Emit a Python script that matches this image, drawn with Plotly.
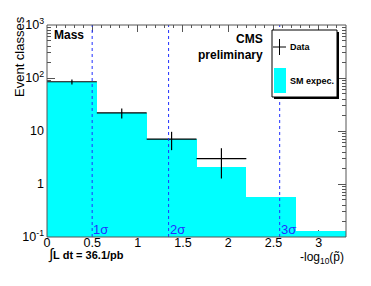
import plotly.graph_objects as go
import numpy as np

# ---- data ----
bin_edges = [0.0, 0.55, 1.10, 1.65, 2.20, 2.75, 3.30]
sm_expec = [85, 22, 7.0, 2.1, 0.57, 0.13]
data_x = [0.275, 0.825, 1.375, 1.925]
data_y = [85, 22, 7, 3]
data_err = [9.2, 4.7, 2.65, 1.73]
sigma_lines = [0.4985, 1.342, 2.568]
sigma_labels = ["1σ", "2σ", "3σ"]
ytick_vals = [0.1, 1, 10, 100, 1000]
ytick_text = ["10<sup>-1</sup>", "1", "10", "10<sup>2</sup>", "10<sup>3</sup>"]
xtick_vals = [0, 0.5, 1, 1.5, 2, 2.5, 3]
xtick_text = ["0", "0.5", "1", "1.5", "2", "2.5", "3"]

centers = [(bin_edges[i] + bin_edges[i + 1]) / 2 for i in range(len(sm_expec))]
widths = [bin_edges[i + 1] - bin_edges[i] for i in range(len(sm_expec))]

FONT = "Liberation Sans, Arial, sans-serif"
W, H = 371, 286
L, R, T, B = 47, 25, 25, 49
pw, ph = W - L - R, H - T - B

def px(x):
    return (x - L) / pw

def py(y):
    return 1 - (y - T) / ph

fig = go.Figure()
fig.add_trace(go.Bar(x=centers, y=sm_expec, width=widths,
                     marker=dict(color="#00FFFF", line=dict(width=0)),
                     showlegend=False))
fig.add_trace(go.Scatter(x=data_x, y=data_y, mode="markers",
                         marker=dict(size=1, color="black"),
                         error_x=dict(type="constant", value=0.275, width=0, thickness=1.2, color="black"),
                         error_y=dict(type="data", array=data_err, width=0, thickness=1.2, color="black"),
                         showlegend=False))

shapes = []
annotations = []
for xv, lab in zip(sigma_lines, sigma_labels):
    shapes.append(dict(type="line", xref="x", yref="paper", x0=xv, x1=xv, y0=0, y1=1,
                       line=dict(color="#2030ff", width=1, dash="dot"), layer="above"))
    annotations.append(dict(x=xv, y=0, xref="x", yref="paper", text=lab, showarrow=False,
                            xanchor="left", yanchor="bottom", xshift=-1, yshift=-2,
                            font=dict(family=FONT, size=13, color="#2030ff")))

# frame
shapes.append(dict(type="rect", xref="paper", yref="paper", x0=0, x1=1, y0=0, y1=1,
                   line=dict(color="#555555", width=1), layer="above"))

# legend box (shadow + box)
shapes.append(dict(type="rect", xref="paper", yref="paper", x0=px(274), x1=px(339), y0=py(99), y1=py(32),
                   line=dict(width=0), fillcolor="black", layer="above"))
shapes.append(dict(type="rect", xref="paper", yref="paper", x0=px(272), x1=px(337), y0=py(97), y1=py(30),
                   line=dict(color="black", width=1), fillcolor="white", layer="above"))
# legend data cross
shapes.append(dict(type="line", xref="paper", yref="paper", x0=px(273), x1=px(286), y0=py(47), y1=py(47),
                   line=dict(color="black", width=1), layer="above"))
shapes.append(dict(type="line", xref="paper", yref="paper", x0=px(279.5), x1=px(279.5), y0=py(39), y1=py(55),
                   line=dict(color="black", width=1), layer="above"))
# legend SM box
shapes.append(dict(type="rect", xref="paper", yref="paper", x0=px(274), x1=px(286), y0=py(93), y1=py(68),
                   line=dict(width=0), fillcolor="#00FFFF", layer="above"))

annotations += [
    dict(x=px(288), y=py(47), xref="paper", yref="paper", text="<b>Data</b>", showarrow=False,
         xanchor="left", yanchor="middle", font=dict(family=FONT, size=9, color="black")),
    dict(x=px(288), y=py(81), xref="paper", yref="paper", text="<b>SM expec.</b>", showarrow=False,
         xanchor="left", yanchor="middle", font=dict(family=FONT, size=9, color="black")),
    dict(x=px(52), y=py(26), xref="paper", yref="paper", text="<b>Mass</b>", showarrow=False,
         xanchor="left", yanchor="top", font=dict(family=FONT, size=12, color="black")),
    dict(x=px(265), y=py(30), xref="paper", yref="paper", text="<b>CMS<br>preliminary</b>", showarrow=False,
         xanchor="right", yanchor="top", align="right",
         font=dict(family=FONT, size=12, color="black")),
    dict(x=px(46), y=py(265), xref="paper", yref="paper",
         text="<span style='font-size:15px'>∫</span><b>L dt = 36.1/pb</b>", showarrow=False,
         xanchor="left", yanchor="bottom", font=dict(family=FONT, size=11, color="black")),
    dict(x=px(346), y=py(268), xref="paper", yref="paper", text="-log<sub>10</sub>(p̃)", showarrow=False,
         xanchor="right", yanchor="bottom", font=dict(family=FONT, size=12, color="black")),
    dict(x=px(20), y=py(57), xref="paper", yref="paper", text="Event classes", showarrow=False,
         textangle=-90, xanchor="center", yanchor="middle", font=dict(family=FONT, size=13, color="black")),
]

minor_y = [m * 10.0 ** k for k in range(-1, 3) for m in range(2, 10)]

fig.update_layout(
    width=W, height=H, margin=dict(l=L, r=R, t=T, b=B),
    paper_bgcolor="white", plot_bgcolor="white",
    font=dict(family=FONT, size=12, color="black"),
    shapes=shapes, annotations=annotations, showlegend=False, bargap=0,
    xaxis=dict(range=[0, 3.3], tickvals=xtick_vals, ticktext=xtick_text, ticks="inside", ticklen=7,
               tickcolor="#555555", mirror="ticks", showline=False, showgrid=False, zeroline=False,
               layer="below traces", tickfont=dict(size=12.5), ticklabelstandoff=-4,
               minor=dict(ticks="inside", ticklen=3, dtick=0.1, tick0=0, tickcolor="#555555", showgrid=False)),
    yaxis=dict(type="log", range=[-1, 3], tickvals=ytick_vals, ticktext=ytick_text, ticks="inside",
               ticklen=8, tickcolor="#555555", mirror="ticks", showline=False, showgrid=False,
               zeroline=False, layer="below traces", tickfont=dict(size=12.5), ticklabelstandoff=2,
               minor=dict(ticks="inside", ticklen=4, tickvals=minor_y, tickcolor="#555555", showgrid=False)),
)

fig.write_html("out.html", config={"displayModeBar": False},
               post_script="document.body.style.margin='0';")
